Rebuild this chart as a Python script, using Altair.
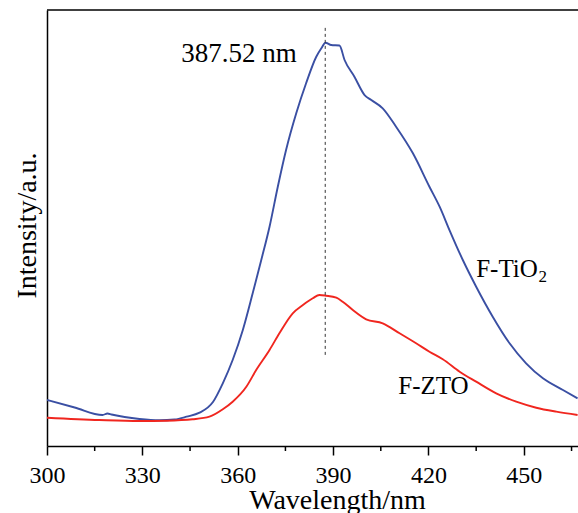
import altair as alt
import pandas as pd

FONT = "Liberation Serif"

# F-TiO2 photoluminescence spectrum (wavelength nm, intensity a.u.)
wavelength_tio2 = [300.0, 308.7, 317.5, 319.0, 320.3, 329.1, 335.4, 340.1, 343.9, 348.0,
                   352.2, 355.3, 358.4, 361.6, 364.7, 367.4, 370.0, 372.6, 375.2, 378.4,
                   381.5, 384.7, 386.3, 387.6, 389.4, 392.0, 393.6, 396.7, 399.9, 402.0,
                   405.6, 409.8, 415.1, 420.3, 423.5, 426.6, 430.8, 435.0, 440.2, 445.5,
                   450.7, 456.0, 462.3, 466.9]
intensity_tio2 = [10.55, 8.83, 7.11, 7.45, 7.22, 6.19, 5.89, 6.08, 6.72, 7.64,
                  10.09, 14.38, 19.72, 26.61, 35.02, 42.66, 50.30, 59.47, 67.89, 76.31,
                  83.19, 89.29, 91.22, 92.50, 91.97, 91.86, 88.53, 84.70, 80.50, 79.36,
                  77.45, 73.23, 67.13, 59.47, 54.89, 49.54, 42.66, 36.54, 29.66, 23.56,
                  18.97, 15.53, 12.84, 10.94]

# F-ZTO spectrum
wavelength_zto = [300.0, 316.5, 329.1, 337.6, 345.8, 351.1, 355.3, 358.4, 362.7, 365.8,
                  370.0, 373.1, 377.3, 380.5, 383.6, 385.7, 387.8, 391.0, 393.0, 396.2,
                  400.4, 405.6, 410.9, 416.1, 420.3, 424.5, 429.8, 435.0, 441.3, 447.6,
                  453.9, 460.2, 466.9]
intensity_zto = [6.49, 5.96, 5.73, 5.80, 6.12, 6.72, 8.42, 10.16, 13.60, 17.43,
                 22.02, 25.85, 30.44, 32.34, 33.88, 34.63, 34.47, 34.01, 33.10, 31.19,
                 29.06, 28.14, 25.85, 23.56, 21.63, 19.89, 17.04, 14.75, 12.09, 10.16,
                 8.78, 7.87, 7.11]

series_names = ["F-TiO2", "F-ZTO"]
series_colors = ["#3a4fa3", "#f0261f"]

major_ticks = [300, 330, 360, 390, 420, 450]
minor_ticks = [315, 345, 375, 405, 435, 465]

peak_wavelength = [387.52]
peak_line_top = [95.9]
peak_line_bottom = [20.4]

# annotation texts
ann_text = ["387.52 nm", "F-TiO", "F-ZTO"]
ann_x = [342.2, 435.0, 410.5]
ann_y = [88.1, 38.8, 11.9]
ann_size = [27, 25, 25]
sub_text = ["2"]
sub_x = [454.6]
sub_y = [37.7]

df = pd.concat([
    pd.DataFrame({"wavelength": wavelength_tio2, "intensity": intensity_tio2, "sample": series_names[0]}),
    pd.DataFrame({"wavelength": wavelength_zto, "intensity": intensity_zto, "sample": series_names[1]}),
])

xs = alt.Scale(domain=[300, 467.03], nice=False, zero=False)
ys = alt.Scale(domain=[0, 100], nice=False, zero=False)

lines = alt.Chart(df).mark_line(strokeWidth=1.9, clip=True, interpolate="monotone").encode(
    x=alt.X("wavelength:Q", scale=xs, axis=alt.Axis(
        values=major_ticks, grid=False, tickSize=9, tickWidth=1.5, tickColor="black",
        domainColor="black", domainWidth=1.5, labelFont=FONT, labelFontSize=24,
        labelColor="black", labelPadding=8, labelFlush=False, labelOverlap=False,
        title="Wavelength/nm", titleFont=FONT, titleFontSize=28, titleFontWeight="normal",
        titleColor="black", titleX=290, titleY=62, titleBaseline="alphabetic", titleAlign="center")),
    y=alt.Y("intensity:Q", scale=ys, axis=alt.Axis(
        ticks=False, labels=False, grid=False, domainColor="black", domainWidth=1.5,
        title="Intensity/a.u.", titleFont=FONT, titleFontSize=28, titleFontWeight="normal",
        titleColor="black", titleAngle=270, titleX=-12, titleY=215,
        titleBaseline="alphabetic", titleAlign="center")),
    color=alt.Color("sample:N", scale=alt.Scale(domain=series_names, range=series_colors), legend=None),
)

top_frame = alt.Chart(pd.DataFrame({"k": [0]})).mark_rule(color="black", strokeWidth=1.5).encode(
    x=alt.value(0), x2=alt.value(531), y=alt.value(0)
)

minor = alt.Chart(pd.DataFrame({"t": minor_ticks})).mark_rule(color="black", strokeWidth=1.5, clip=False).encode(
    x=alt.X("t:Q", scale=xs), y=alt.value(436), y2=alt.value(441)
)

peak = alt.Chart(pd.DataFrame({"w": peak_wavelength, "top": peak_line_top, "bot": peak_line_bottom})).mark_rule(
    color="#333333", strokeWidth=1, strokeDash=[3, 3]).encode(
    x=alt.X("w:Q", scale=xs), y=alt.Y("top:Q", scale=ys), y2="bot:Q"
)

ann = alt.Chart(pd.DataFrame({"text": ann_text, "x": ann_x, "y": ann_y, "size": ann_size})).mark_text(
    font=FONT, align="left", baseline="alphabetic", color="black").encode(
    x=alt.X("x:Q", scale=xs), y=alt.Y("y:Q", scale=ys), text="text:N",
    size=alt.Size("size:Q", scale=None, legend=None)
)

sub = alt.Chart(pd.DataFrame({"text": sub_text, "x": sub_x, "y": sub_y})).mark_text(
    font=FONT, align="left", baseline="alphabetic", color="black", fontSize=17).encode(
    x=alt.X("x:Q", scale=xs), y=alt.Y("y:Q", scale=ys), text="text:N"
)

chart = alt.layer(lines, top_frame, minor, peak, ann, sub).properties(
    width=531, height=436,
    autosize=alt.AutoSizeParams(type="none"),
    padding={"left": 47, "top": 10, "right": 0, "bottom": 67},
    background="white",
).configure_view(stroke=None)

chart.save("out.html", embed_options={"renderer": "svg", "actions": False})
